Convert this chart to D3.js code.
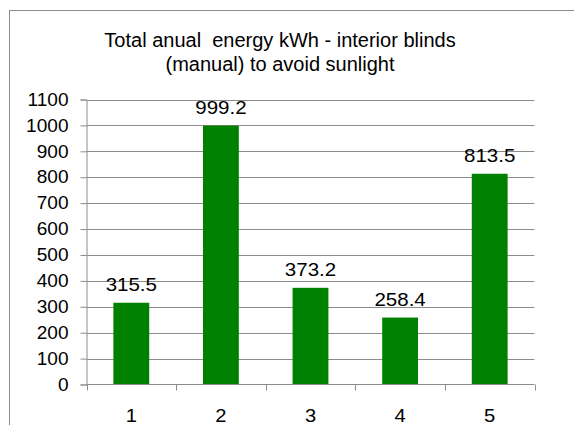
<!DOCTYPE html>
<html><head><meta charset="utf-8">
<script src="https://cdn.jsdelivr.net/npm/d3@7"></script>
<style>html,body{margin:0;padding:0;background:#fff;}svg{display:block;}</style>
</head><body>
<svg id="chart" width="574" height="425"></svg>
<script>
const categories = ["1","2","3","4","5"];
const values = [315.5, 999.2, 373.2, 258.4, 813.5];
const yTicks = [0,100,200,300,400,500,600,700,800,900,1000,1100];
const titleLines = ["Total anual  energy kWh - interior blinds", "(manual) to avoid sunlight"];

const svg = d3.select("#chart");
const font = "Liberation Sans, Arial, sans-serif";
const sx = 1.14;
svg.append("rect").attr("x",9.5).attr("y",10.5).attr("width",600).attr("height",500)
  .attr("fill","#fff").attr("stroke","#8c8c8c").attr("stroke-width",1);

const m = {left:86.5, right:534.5, top:99.5, bottom:384.5};
const x = d3.scaleBand().domain(categories).range([m.left,m.right]).paddingInner(0.6).paddingOuter(0.3);
const y = d3.scaleLinear().domain([0,1100]).range([m.bottom,m.top]);

// gridlines
svg.append("g").selectAll("line").data(yTicks.filter(d=>d>0)).join("line")
  .attr("x1",m.left).attr("x2",m.right).attr("y1",d=>Math.round(y(d))+0.5).attr("y2",d=>Math.round(y(d))+0.5)
  .attr("stroke","#8c8c8c");

// y axis
const ya = svg.append("g").attr("transform",`translate(${m.left},0)`)
  .call(d3.axisLeft(y).tickValues(yTicks).tickSize(6).tickPadding(11).tickFormat(d3.format("d")));
ya.select(".domain").attr("stroke","#8c8c8c");
ya.selectAll(".tick line").attr("stroke","#8c8c8c");
ya.selectAll("text").attr("font-family",font).attr("font-size",18).attr("fill","#000")
  .attr("x",0).attr("transform",`translate(-18,0) scale(1.06,1)`);

// bars
svg.append("g").selectAll("rect").data(values).join("rect")
  .attr("x",(d,i)=>x(categories[i])).attr("width",x.bandwidth())
  .attr("y",d=>y(d)).attr("height",d=>y(0)-y(d)).attr("fill","#008000");

// x axis
const step = (m.right-m.left)/categories.length;
const xa = svg.append("g");
xa.append("line").attr("x1",m.left).attr("x2",m.right).attr("y1",m.bottom).attr("y2",m.bottom).attr("stroke","#8c8c8c");
xa.selectAll("line.t").data(d3.range(categories.length+1)).join("line").attr("class","t")
  .attr("x1",i=>Math.round(m.left+i*step)+0.5).attr("x2",i=>Math.round(m.left+i*step)+0.5)
  .attr("y1",m.bottom).attr("y2",m.bottom+6).attr("stroke","#8c8c8c");
xa.selectAll("text").data(categories).join("text")
  .attr("transform",d=>`translate(${x(d)+x.bandwidth()/2},${m.bottom+37}) scale(1.06,1)`)
  .attr("text-anchor","middle")
  .attr("font-family",font).attr("font-size",19).text(d=>d);

// value labels
svg.append("g").selectAll("text").data(values).join("text")
  .attr("transform",(d,i)=>`translate(${x(categories[i])+x.bandwidth()/2},${y(d)-11.5}) scale(${sx},1)`)
  .attr("text-anchor","middle")
  .attr("font-family",font).attr("font-size",18).text(d=>d3.format(".1f")(d));

// title
svg.append("g").selectAll("text").data(titleLines).join("text")
  .attr("x",280).attr("y",(d,i)=>47+i*23.5).attr("text-anchor","middle")
  .style("white-space","pre").attr("xml:space","preserve")
  .attr("font-family",font).attr("font-size",20).text(d=>d);
</script>
</body></html>
